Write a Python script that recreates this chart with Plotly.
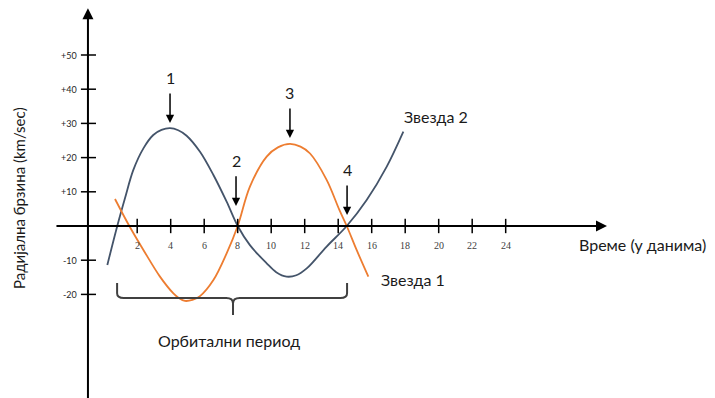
import plotly.graph_objects as go

# Radial velocity curves (days, km/sec)
star1_days = [0.675, 1.53, 2.37, 3.36, 4.16, 4.5, 4.85, 5.3, 5.75, 6.55, 7.34, 8.0,
              8.73, 9.73, 10.4, 11.12, 11.75, 12.32, 13.31, 14.07, 14.51, 15.1, 15.8]
star1_vel = [7.9, 0.0, -7.0, -14.8, -19.7, -21.1, -21.9, -21.6, -20.5, -15.8, -8.0, 0.0,
             11.5, 20.3, 23.0, 24.0, 23.2, 21.2, 13.5, 4.7, 0.0, -7.0, -14.8]

star2_days = [0.217, 0.81, 1.27, 1.77, 2.37, 2.96, 3.45, 3.96, 4.45, 4.95, 5.75, 6.55,
              7.34, 8.0, 8.73, 9.73, 10.3, 10.92, 11.5, 12.12, 13.31, 14.51, 15.7,
              16.89, 17.89]
star2_vel = [-11.4, 0.0, 8.1, 16.4, 22.7, 26.6, 28.1, 28.6, 28.0, 26.4, 21.7, 14.9,
             7.1, 0.0, -5.6, -10.9, -13.5, -14.8, -14.4, -12.4, -6.0, 0.0, 7.6,
             17.3, 27.6]

x_ticks = [2, 4, 6, 8, 10, 12, 14, 16, 18, 20, 22, 24]
y_ticks = [50, 40, 30, 20, 10, -10, -20]
y_tick_labels = ["+50", "+40", "+30", "+20", "+10", "-10", "-20"]

# Phase markers: label, day, velocity at the marked point
marker_labels = ["1", "2", "3", "4"]
marker_days = [3.96, 7.9, 11.12, 14.53]
marker_vel = [30.1, 5.85, 25.7, 3.2]

BLUE = "#44546A"
ORANGE = "#ED7D31"
FONT = "Lato"
TEXT = "#1a1a1a"

fig = go.Figure()

fig.add_trace(go.Scatter(
    x=star2_days, y=star2_vel, mode="lines",
    line=dict(color=BLUE, width=1.8, shape="spline", smoothing=1.0),
    hoverinfo="skip", showlegend=False))
fig.add_trace(go.Scatter(
    x=star1_days, y=star1_vel, mode="lines",
    line=dict(color=ORANGE, width=1.8, shape="spline", smoothing=1.0),
    hoverinfo="skip", showlegend=False))

annotations = []
shapes = []

# Axes drawn as arrows crossing at the origin
y_axis_x = -0.94
annotations.append(dict(x=y_axis_x, y=63.7, ax=y_axis_x, ay=-51, xref="x", yref="y",
                        axref="x", ayref="y", showarrow=True, arrowhead=2,
                        arrowsize=1.1, arrowwidth=2, arrowcolor="black", text=""))
annotations.append(dict(x=30.05, y=0, ax=-2.91, ay=0, xref="x", yref="y",
                        axref="x", ayref="y", showarrow=True, arrowhead=2,
                        arrowsize=1.1, arrowwidth=2, arrowcolor="black", text=""))

# Tick marks crossing the axes, with labels
for t in x_ticks:
    shapes.append(dict(type="line", xref="x", yref="y", x0=t, x1=t, y0=2.1, y1=-2.1,
                       line=dict(color="black", width=1.5)))
    annotations.append(dict(x=t, y=-5.7, xref="x", yref="y", text=str(t), showarrow=False,
                            font=dict(family="Liberation Serif", size=10, color="#404040")))
for v, lab in zip(y_ticks, y_tick_labels):
    shapes.append(dict(type="line", xref="x", yref="y", x0=-1.36, x1=-0.46, y0=v, y1=v,
                       line=dict(color="black", width=1.5)))
    annotations.append(dict(x=-1.47, y=v, xref="x", yref="y", text=lab, showarrow=False,
                            xanchor="right",
                            font=dict(family=FONT, size=9, color="#262626")))

# Numbered phase markers with downward arrows
for lab, d, v in zip(marker_labels, marker_days, marker_vel):
    annotations.append(dict(x=d, y=v, ax=d, ay=v + 9.1, xref="x", yref="y",
                            axref="x", ayref="y", showarrow=True, arrowhead=2,
                            arrowsize=1.1, arrowwidth=1.5, arrowcolor="black", text=""))
    annotations.append(dict(x=d, y=v + 13.2, xref="x", yref="y", text=lab,
                            showarrow=False,
                            font=dict(family=FONT, size=16, color=TEXT)))

# Curve names and axis titles
annotations += [
    dict(x=17.81, y=31.9, xref="x", yref="y", text="Звезда 2", showarrow=False,
         xanchor="left", font=dict(family=FONT, size=16, color=TEXT)),
    dict(x=16.44, y=-15.5, xref="x", yref="y", text="Звезда 1", showarrow=False,
         xanchor="left", font=dict(family=FONT, size=16, color=TEXT)),
    dict(x=28.25, y=-5.3, xref="x", yref="y", text="Време (у данима)", showarrow=False,
         xanchor="left", font=dict(family=FONT, size=16, color=TEXT)),
    dict(x=7.51, y=-33.6, xref="x", yref="y", text="Орбитални период", showarrow=False,
         font=dict(family=FONT, size=16, color=TEXT)),
    dict(x=-5.06, y=8.2, xref="x", yref="y", text="Радијална брзина (km/sec)",
         showarrow=False, textangle=-90,
         font=dict(family=FONT, size=15, color=TEXT)),
]

# Brace spanning one orbital period
x0, x1, xc = 0.8, 14.53, 7.72
yt, yh, yb = -16.7, -21.05, -26.0
brace = (f"M {x0},{yt} L {x0},{yh + 1.4} Q {x0},{yh} {x0 + 0.4},{yh} "
         f"L {xc - 0.4},{yh} Q {xc},{yh} {xc},{yh - 1.6} L {xc},{yb} "
         f"M {xc},{yh - 1.6} Q {xc},{yh} {xc + 0.4},{yh} "
         f"L {x1 - 0.4},{yh} Q {x1},{yh} {x1},{yh + 1.4} L {x1},{yt}")
shapes.append(dict(type="path", xref="x", yref="y", path=brace,
                   line=dict(color="#404040", width=2)))

fig.update_layout(
    width=715, height=398, autosize=False,
    margin=dict(l=0, r=0, t=0, b=0, pad=0),
    paper_bgcolor="white", plot_bgcolor="white",
    xaxis=dict(range=[-6.191, 36.496], visible=False, fixedrange=True),
    yaxis=dict(range=[-50.29, 66.08], visible=False, fixedrange=True),
    annotations=annotations, shapes=shapes,
    showlegend=False,
)

fig.write_html("out.html")
